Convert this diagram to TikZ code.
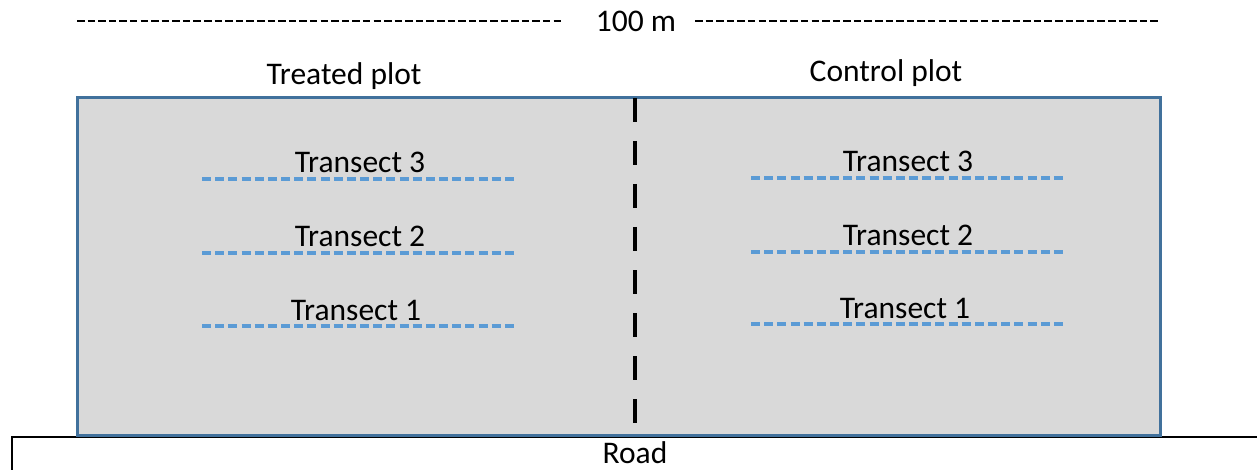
\documentclass[tikz,border=0pt]{standalone}
\usepackage{fontspec}
\setmainfont{Carlito}
\definecolor{plotfill}{HTML}{D9D9D9}
\definecolor{plotedge}{HTML}{41719C}
\definecolor{transectblue}{HTML}{5B9BD5}
\begin{document}
\begin{tikzpicture}[x=1pt,y=-1pt,
  lbl/.style={inner sep=0pt,font=\fontsize{31.5}{38}\selectfont,anchor=base},
  scaleline/.style={line width=2.3pt,dash pattern=on 7.5pt off 3.09pt},
  divider/.style={line width=4pt,dash pattern=on 24pt off 19pt},
  transect/.style={transectblue,line width=3.2pt,dash pattern=on 9pt off 4.17pt},
  plot/.style={fill=plotfill,draw=plotedge,line width=3pt}]
\useasboundingbox (0,0) rectangle (1257,470);

% road edge
\coordinate (roadL) at (12,470);
\coordinate (roadC) at (12,437);
\coordinate (roadR) at (1257,437);
\draw[line width=1.5pt] (roadL) -- (roadC) -- (roadR);
\node[lbl] (road) at (635,463) {Road};

% plot area
\draw[plot] (77,98) rectangle (1160,435);
\coordinate (divT) at (635,98);
\coordinate (divB) at (635,424);
\draw[divider] (divT) -- (divB);

% 100 m scale
\node[lbl] (dist) at (636,32) {100 m};
\coordinate (scaleL) at (77,21);
\coordinate (scaleR) at (1158,21);
\draw[scaleline] (scaleL) -- (561,21);
\draw[scaleline] (695,21) -- (scaleR);

% plot titles
\node[lbl] (treated) at (344,85) {Treated plot};
\node[lbl] (control) at (886,82) {Control plot};

% transects, treated side
\foreach \n/\y/\c in {3/179/360, 2/253/360, 1/326/356}{
  \coordinate (tl\n) at (202,\y);
  \coordinate (tr\n) at (514,\y);
  \draw[transect] (tl\n) -- (tr\n);
  \node[lbl] (tt\n) at (\c,\y-6) {Transect \n};
}
% transects, control side
\foreach \n/\y/\c in {3/178/908, 2/252/908, 1/324/905}{
  \coordinate (cl\n) at (751,\y);
  \coordinate (cr\n) at (1063,\y);
  \draw[transect] (cl\n) -- (cr\n);
  \node[lbl] (ct\n) at (\c,\y-6) {Transect \n};
}
\end{tikzpicture}
\end{document}
